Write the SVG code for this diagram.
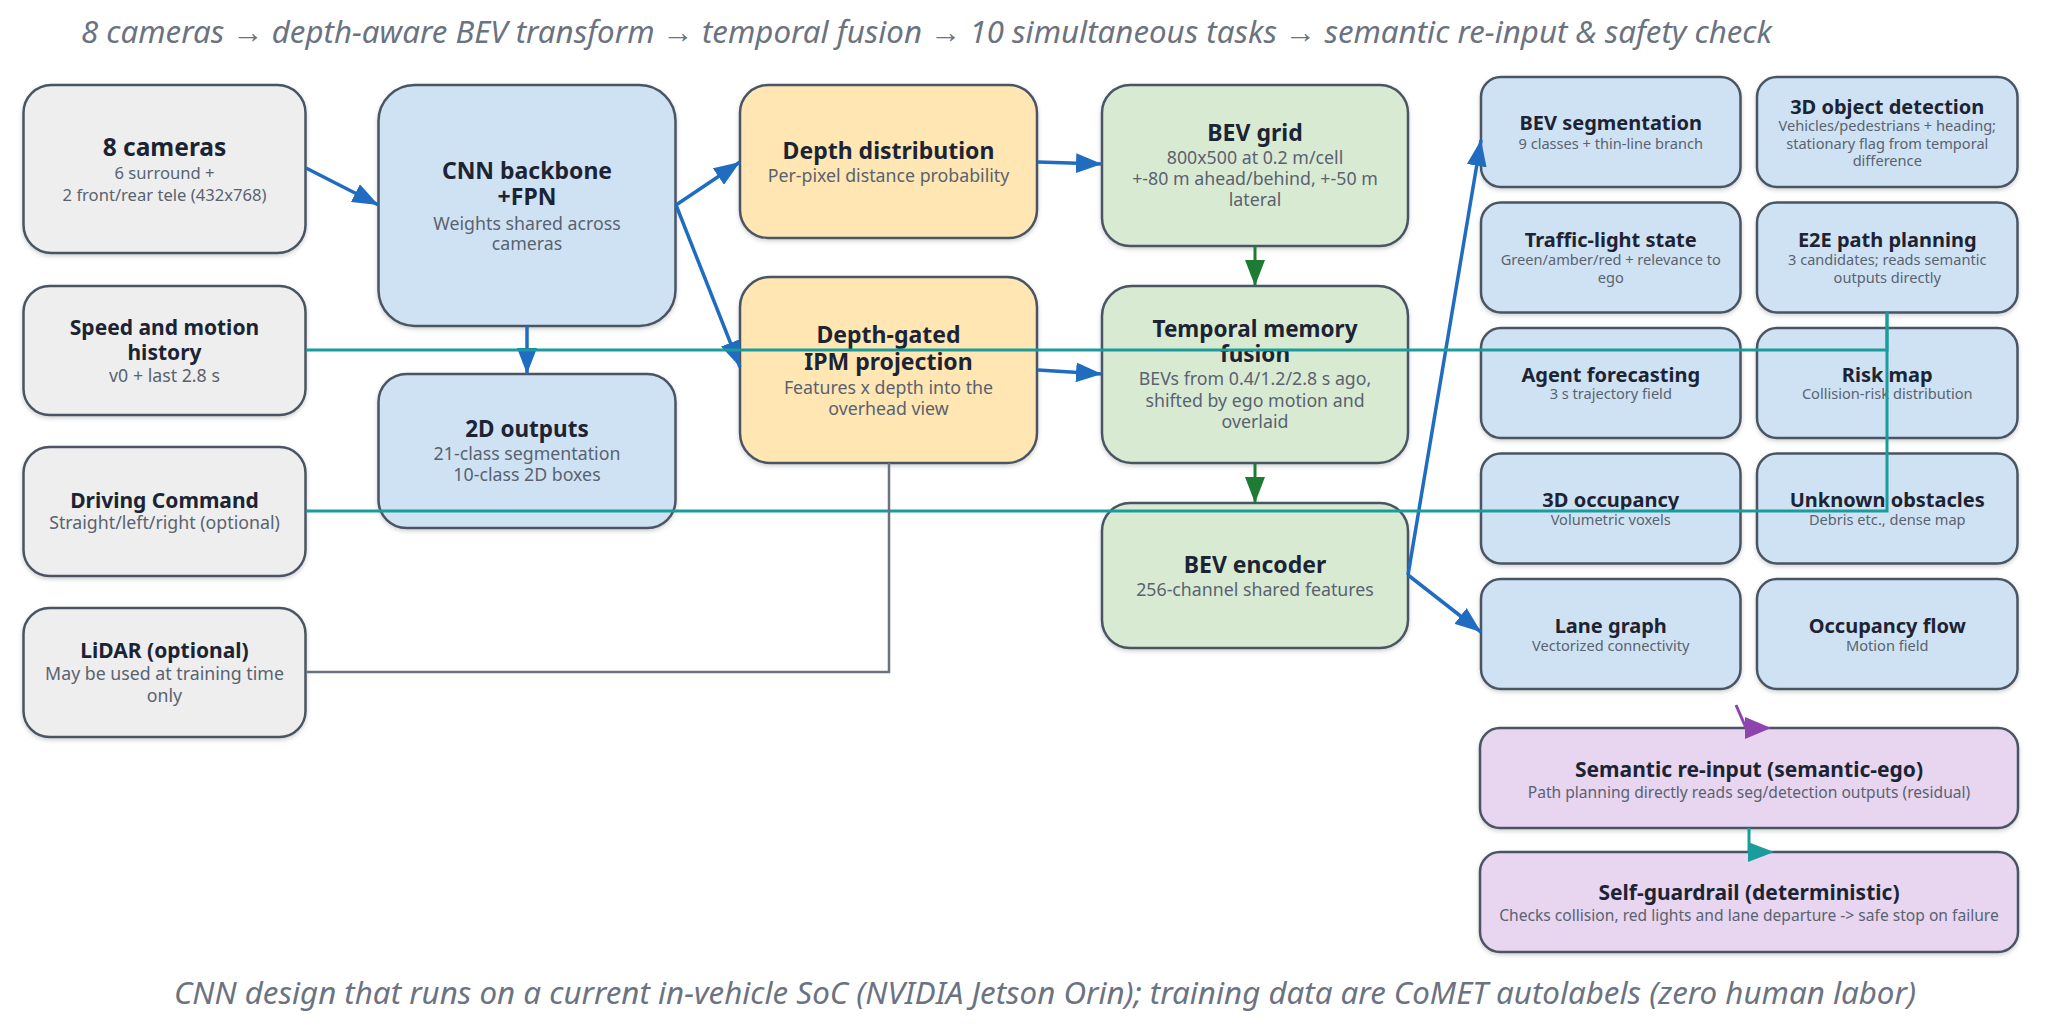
<svg xmlns="http://www.w3.org/2000/svg" width="2048" height="1026" viewBox="0 0 2048 1026">
<defs>
<filter id="sh" x="-10%" y="-10%" width="120%" height="130%">
<feDropShadow dx="0" dy="2" stdDeviation="2" flood-color="#000" flood-opacity="0.18"/>
</filter>
<marker id="mBlue" markerUnits="userSpaceOnUse" markerWidth="26" markerHeight="20" refX="26" refY="10" orient="auto">
<path d="M0,0 L26,10 L0,20 z" fill="#1f6cc0"/>
</marker>
<marker id="mGreen" markerUnits="userSpaceOnUse" markerWidth="26" markerHeight="20" refX="26" refY="10" orient="auto">
<path d="M0,0 L26,10 L0,20 z" fill="#1e7b34"/>
</marker>
<marker id="mPurple" markerUnits="userSpaceOnUse" markerWidth="26" markerHeight="22" refX="1" refY="11" orient="0">
<path d="M0,0 L26,11 L0,22 z" fill="#8e44ad"/>
</marker>
<marker id="mTeal" markerUnits="userSpaceOnUse" markerWidth="26" markerHeight="20" refX="1" refY="10" orient="0">
<path d="M0,0 L26,10 L0,20 z" fill="#1a9c9c"/>
</marker>
</defs>
<style>
text{font-family:"Noto Sans","Open Sans","Liberation Sans",sans-serif;text-anchor:middle}
.box{stroke:#4a5563;stroke-width:2.5;filter:url(#sh)}
.gray{fill:#eeeeee}.blue{fill:#cfe2f3}.yel{fill:#ffe6b3}.grn{fill:#d9ead3}.pur{fill:#e8d5f0}
.t{font-weight:700;fill:#1c2434;font-size:23px}
.t2{font-weight:700;fill:#1c2434;font-size:22.5px}
.tl{font-weight:700;fill:#1c2434;font-size:24.5px}
.tm{font-weight:700;fill:#1c2434;font-size:21px}
.ts{font-weight:700;fill:#1c2434;font-size:20px}
.s{fill:#596270;font-size:17.75px}
.s8{fill:#596270;font-size:16.6px}
.ss{fill:#596270;font-size:14.6px}
.sp{fill:#596270;font-size:15.6px}
.cap{font-style:italic;fill:#6b7280;font-size:31px;text-anchor:start}
.cb{fill:none;stroke:#1f6cc0;stroke-width:3.5;marker-end:url(#mBlue)}
.cg{fill:none;stroke:#1e7b34;stroke-width:3;marker-end:url(#mGreen)}
.ct{fill:none;stroke:#1a9c9c;stroke-width:3}
.cy{fill:none;stroke:#6b7280;stroke-width:2.5}
</style>
<rect width="2048" height="1026" fill="#ffffff"/>
<text class="cap" x="81" y="43" textLength="1691" lengthAdjust="spacingAndGlyphs">8 cameras → depth-aware BEV transform → temporal fusion → 10 simultaneous tasks → semantic re-input &amp; safety check</text>

<g id="cameras"><rect class="box gray" x="23.5" y="85" width="282" height="168" rx="28"/>
<text class="tl" x="164.5" y="156">8 cameras</text>
<text class="s8" x="164.5" y="179">6 surround +</text>
<text class="s8" x="164.5" y="200.5">2 front/rear tele (432x768)</text></g>

<g id="speed"><rect class="box gray" x="23.5" y="286" width="282" height="129" rx="26"/>
<text class="tm" x="164.5" y="335">Speed and motion</text>
<text class="tm" x="164.5" y="359.5">history</text>
<text class="s" x="164.5" y="381.5">v0 + last 2.8 s</text></g>

<g id="command"><rect class="box gray" x="23.5" y="447" width="282" height="129" rx="26"/>
<text class="tm" x="164.5" y="507.5">Driving Command</text>
<text class="s" x="164.5" y="529">Straight/left/right (optional)</text></g>

<g id="lidar"><rect class="box gray" x="23.5" y="608" width="282" height="129" rx="26"/>
<text class="tm" x="164.5" y="658">LiDAR (optional)</text>
<text class="s" x="164.5" y="680">May be used at training time</text>
<text class="s" x="164.5" y="701.5">only</text></g>

<g id="cnn"><rect class="box blue" x="378.5" y="85" width="297" height="241" rx="36"/>
<text class="t" x="527" y="178.5">CNN backbone</text>
<text class="t" x="527" y="205">+FPN</text>
<text class="s" x="527" y="229.5">Weights shared across</text>
<text class="s" x="527" y="250">cameras</text></g>

<g id="out2d"><rect class="box blue" x="378.5" y="374" width="297" height="154" rx="28"/>
<text class="t2" x="527" y="436.5">2D outputs</text>
<text class="s" x="527" y="460">21-class segmentation</text>
<text class="s" x="527" y="480.5">10-class 2D boxes</text></g>

<g id="depth"><rect class="box yel" x="740" y="85" width="297" height="153" rx="28"/>
<text class="t" x="888.5" y="158.5">Depth distribution</text>
<text class="s" x="888.5" y="181.5">Per-pixel distance probability</text></g>

<g id="ipm"><rect class="box yel" x="740" y="277" width="297" height="186" rx="30"/>
<text class="t" x="888.5" y="342.5">Depth-gated</text>
<text class="t" x="888.5" y="370">IPM projection</text>
<text class="s" x="888.5" y="394">Features x depth into the</text>
<text class="s" x="888.5" y="414.5">overhead view</text></g>

<g id="bevgrid"><rect class="box grn" x="1102" y="85" width="306" height="161" rx="28"/>
<text class="t" x="1255" y="141">BEV grid</text>
<text class="s" x="1255" y="163.5">800x500 at 0.2 m/cell</text>
<text class="s" x="1255" y="184.5">+-80 m ahead/behind, +-50 m</text>
<text class="s" x="1255" y="205.5">lateral</text></g>

<g id="temporal"><rect class="box grn" x="1102" y="286" width="306" height="177" rx="30"/>
<text class="t2" x="1255" y="336.5">Temporal memory</text>
<text class="t2" x="1255" y="361.5">fusion</text>
<text class="s" x="1255" y="385">BEVs from 0.4/1.2/2.8 s ago,</text>
<text class="s" x="1255" y="406.5">shifted by ego motion and</text>
<text class="s" x="1255" y="428">overlaid</text></g>

<g id="encoder"><rect class="box grn" x="1102" y="503" width="306" height="145" rx="28"/>
<text class="t" x="1255" y="572.5">BEV encoder</text>
<text class="s" x="1255" y="596">256-channel shared features</text></g>

<g id="bevseg"><rect class="box blue" x="1481" y="77" width="259.5" height="110" rx="20"/>
<text class="ts" x="1610.75" y="130">BEV segmentation</text>
<text class="ss" x="1610.75" y="148.5">9 classes + thin-line branch</text></g>

<g id="det3d"><rect class="box blue" x="1757" y="77" width="260.5" height="110" rx="20"/>
<text class="ts" x="1887.25" y="113.5">3D object detection</text>
<text class="ss" x="1887.25" y="131">Vehicles/pedestrians + heading;</text>
<text class="ss" x="1887.25" y="148.5">stationary flag from temporal</text>
<text class="ss" x="1887.25" y="166">difference</text></g>

<g id="traffic"><rect class="box blue" x="1481" y="202.5" width="259.5" height="110" rx="20"/>
<text class="ts" x="1610.75" y="246.5">Traffic-light state</text>
<text class="ss" x="1610.75" y="265">Green/amber/red + relevance to</text>
<text class="ss" x="1610.75" y="282.5">ego</text></g>

<g id="e2e"><rect class="box blue" x="1757" y="202.5" width="260.5" height="110" rx="20"/>
<text class="ts" x="1887.25" y="246.5">E2E path planning</text>
<text class="ss" x="1887.25" y="265">3 candidates; reads semantic</text>
<text class="ss" x="1887.25" y="282.5">outputs directly</text></g>

<g id="forecast"><rect class="box blue" x="1481" y="328" width="259.5" height="110" rx="20"/>
<text class="ts" x="1610.75" y="381.5">Agent forecasting</text>
<text class="ss" x="1610.75" y="399">3 s trajectory field</text></g>

<g id="risk"><rect class="box blue" x="1757" y="328" width="260.5" height="110" rx="20"/>
<text class="ts" x="1887.25" y="381.5">Risk map</text>
<text class="ss" x="1887.25" y="399">Collision-risk distribution</text></g>

<g id="occ3d"><rect class="box blue" x="1481" y="453.5" width="259.5" height="110" rx="20"/>
<text class="ts" x="1610.75" y="506.5">3D occupancy</text>
<text class="ss" x="1610.75" y="525">Volumetric voxels</text></g>

<g id="unknown"><rect class="box blue" x="1757" y="453.5" width="260.5" height="110" rx="20"/>
<text class="ts" x="1887.25" y="506.5">Unknown obstacles</text>
<text class="ss" x="1887.25" y="525">Debris etc., dense map</text></g>

<g id="lane"><rect class="box blue" x="1481" y="579" width="259.5" height="110" rx="20"/>
<text class="ts" x="1610.75" y="633">Lane graph</text>
<text class="ss" x="1610.75" y="650.5">Vectorized connectivity</text></g>

<g id="flow"><rect class="box blue" x="1757" y="579" width="260.5" height="110" rx="20"/>
<text class="ts" x="1887.25" y="633">Occupancy flow</text>
<text class="ss" x="1887.25" y="650.5">Motion field</text></g>

<g id="semantic"><rect class="box pur" x="1480" y="728" width="538" height="100" rx="20"/>
<text class="tm" x="1749" y="776.5">Semantic re-input (semantic-ego)</text>
<text class="sp" x="1749" y="797.5">Path planning directly reads seg/detection outputs (residual)</text></g>

<g id="guardrail"><rect class="box pur" x="1480" y="852" width="538" height="100" rx="20"/>
<text class="tm" x="1749" y="900">Self-guardrail (deterministic)</text>
<text class="sp" x="1749" y="921">Checks collision, red lights and lane departure -&gt; safe stop on failure</text></g>

<g id="connectors">
<path class="cb" d="M306,168 L378.5,205"/>
<path class="cb" d="M676,205 L740,162"/>
<path class="cb" d="M676,205 L740,367"/>
<path class="cb" d="M527,326 L527,374"/>
<path class="cb" d="M1038,162 L1102,164"/>
<path class="cb" d="M1038,370 L1102,374"/>
<path class="cb" d="M1408,575 L1481,140"/>
<path class="cb" d="M1408,575 L1481,632"/>
<path class="cg" d="M1255,246 L1255,286"/>
<path class="cg" d="M1255,463 L1255,503"/>
<path class="ct" d="M306,350 H1887 V312.5"/>
<path class="ct" d="M306,511 H1887 V312.5"/>
<path class="cy" d="M306,672 H889 V463"/>
<path fill="none" stroke="#8e44ad" stroke-width="3" marker-end="url(#mPurple)" d="M1736,705 L1746,728"/>
<path fill="none" stroke="#1a9c9c" stroke-width="3" marker-end="url(#mTeal)" d="M1749,828 L1749,852"/>
</g>

<text class="cap" x="174" y="1004" textLength="1742" lengthAdjust="spacingAndGlyphs">CNN design that runs on a current in-vehicle SoC (NVIDIA Jetson Orin); training data are CoMET autolabels (zero human labor)</text>
</svg>
